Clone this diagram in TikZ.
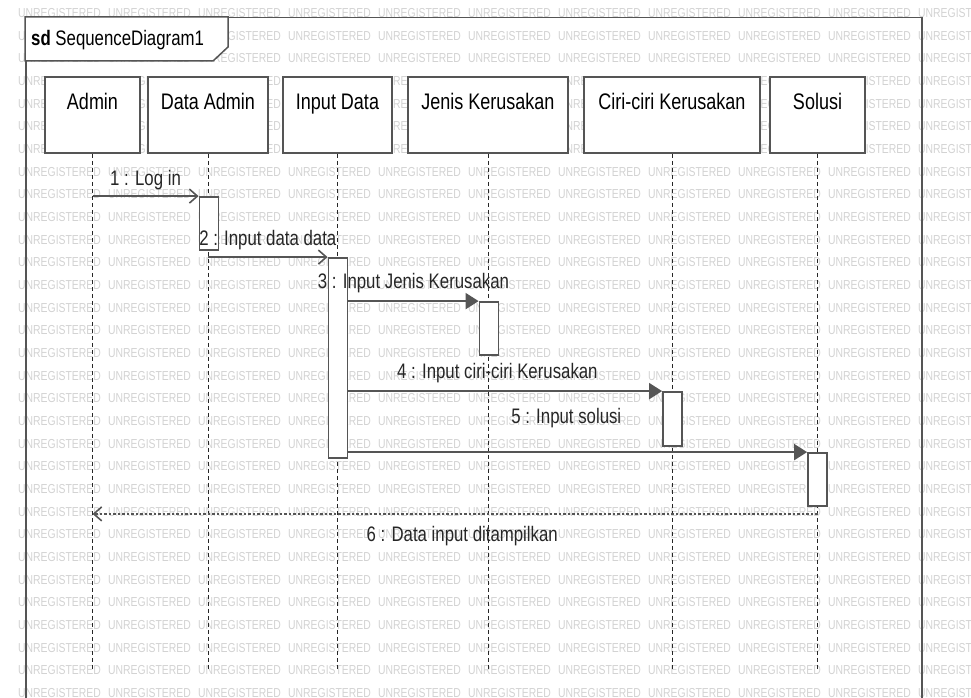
\documentclass[tikz,border=0pt]{standalone}
\usepackage{fontspec}
\newfontfamily\umlfont{Liberation Sans}[FakeStretch=0.8]
\usetikzlibrary{arrows.meta}
\definecolor{umlline}{HTML}{555555}
\definecolor{wmgray}{HTML}{D2D2D2}

\begin{document}
\begin{tikzpicture}[x=1pt,y=1pt,
  frm/.style={draw=umlline,line width=1.5pt},
  head/.style={draw=umlline,line width=1.8pt,fill=white,minimum height=76pt,
    text height=16pt,text depth=26pt,font=\umlfont\fontsize{22.5}{26}\selectfont},
  act/.style={draw=umlline,line width=1.8pt,fill=white,minimum width=19pt,inner sep=0pt},
  life/.style={draw=black!85,line width=0.9pt,dash pattern=on 4pt off 3pt},
  msg/.style={draw=umlline,line width=2pt,-{Triangle[length=13pt,width=16pt]}},
  opencall/.style={draw=umlline,line width=2pt,-{Straight Barb[length=8pt,width=14pt,line width=1.6pt]}},
  reply/.style={draw=umlline,line width=2.4pt,dash pattern=on 2.5pt off 2pt,
    -{Straight Barb[length=8pt,width=14pt,line width=1.6pt]}},
  lab/.style={font=\umlfont\fontsize{21}{24}\selectfont,text=black!85,inner sep=1pt,
    text height=15pt,text depth=4pt},
  wm/.style={font=\umlfont\fontsize{13}{15}\selectfont,text=wmgray,anchor=west,inner sep=0pt}]
\useasboundingbox (0,0) rectangle (971,-698);
\clip (0,0) rectangle (971,-698);
% watermark
\foreach \r in {0,...,30}
  \foreach \c in {0,...,10}
    \node[wm] (wm-\r-\c) at (18+90*\c,-13-22.67*\r) {UNREGISTERED};
% frame
\node[frm,anchor=north west,minimum width=896pt,minimum height=720pt,inner sep=0pt] (frame) at (25,-17) {};
\draw[frm,fill=white] (frame.north west) -- (25,-61) -- (213,-61) -- (228,-47) -- (228,-17) -- cycle;
\node[anchor=west,inner sep=0pt,font=\umlfont\fontsize{21}{24}\selectfont] (title) at (31,-40) {\textbf{sd} SequenceDiagram1};
% lifelines
\node[head,minimum width=95pt] (admin) at (92.5,-115) {Admin};
\node[head,minimum width=120pt] (dataadmin) at (208,-115) {Data Admin};
\node[head,minimum width=109pt] (inputdata) at (337.5,-115) {Input Data};
\node[head,minimum width=160pt] (jenis) at (488,-115) {Jenis Kerusakan};
\node[head,minimum width=176pt] (ciri) at (672,-115) {Ciri-ciri Kerusakan};
\node[head,minimum width=95pt] (solusi) at (817.5,-115) {Solusi};
\foreach \h in {admin,dataadmin,inputdata,jenis,ciri,solusi}
  \draw[life] (\h.south) -- ++(0,-517);
% activations
\node[act,minimum height=53pt] (actD) at (209,-223.5) {};
\node[act,minimum height=200pt] (actI) at (338,-358) {};
\node[act,minimum height=53pt] (actJ) at (489,-328.5) {};
\node[act,minimum height=54pt] (actC) at (672.5,-419) {};
\node[act,minimum height=53pt] (actS) at (817.5,-479.5) {};
% messages
\draw[opencall] (admin |- actD.north) -- node[lab,above=4.8pt] (m1) {1 : Log in} (actD.north west);
\draw[opencall] (dataadmin |- actI.north) -- node[lab,above=5.8pt] (m2) {2 : Input data data} (actI.north west);
\draw[msg] (actI.east |- actJ.north) -- node[lab,above=6.8pt] (m3) {3 : Input Jenis Kerusakan} (actJ.north west);
\draw[msg] (actI.east |- actC.north) -- node[lab,above=6.8pt,pos=0.475] (m4) {4 : Input ciri-ciri Kerusakan} (actC.north west);
\draw[msg] (actI.east |- actS.north) -- node[lab,above=22.8pt,pos=0.475] (m5) {5 : Input solusi} (actS.north west);
\coordinate (ret) at ([yshift=-7pt]actS.south);
\draw[reply] (ret) -- node[lab,below=10.2pt,pos=0.49] (m6) {6 : Data input ditampilkan} (admin |- ret);
\end{tikzpicture}
\end{document}
